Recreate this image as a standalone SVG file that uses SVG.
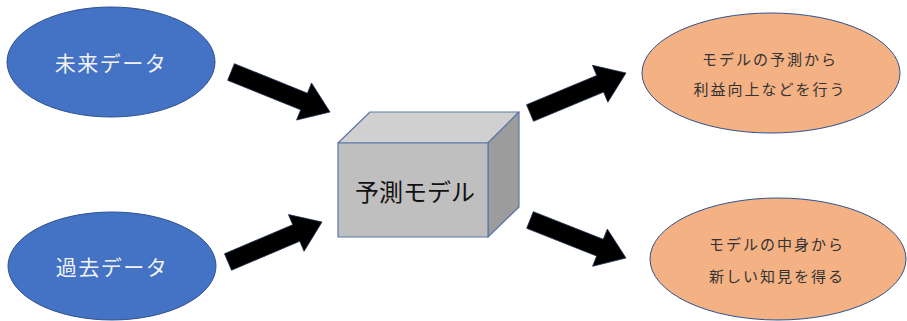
<svg xmlns="http://www.w3.org/2000/svg" width="907" height="321" viewBox="0 0 907 321">
<style>
.blue{fill:#4472C4;stroke:#2F528F;stroke-width:1}
.orange{fill:#F4B183;stroke:#2F528F;stroke-width:1}
.wt{fill:#F2F2F2;font-family:"Noto Sans CJK JP","Noto Sans",sans-serif;font-size:21px;text-anchor:middle;dominant-baseline:central;letter-spacing:1.5px}
.dt{fill:#333333;font-family:"Noto Sans CJK JP","Noto Sans",sans-serif;font-size:15px;text-anchor:middle;dominant-baseline:central;letter-spacing:2px}
.bt{fill:#111111;font-family:"Noto Sans CJK JP","Noto Sans",sans-serif;font-size:24px;text-anchor:middle;dominant-baseline:central}
.arr{fill:#000000;stroke:#1F2F4F;stroke-width:0.8}
.box{stroke:#5B76A8;stroke-width:1.2;stroke-linejoin:round}
</style>
<rect width="907" height="321" fill="#FFFFFF"/>
<g id="connectors">
<polygon class="arr" points="234.37,63.66 307.41,93.17 311.53,82.97 330,112 296.55,120.05 300.67,109.85 227.63,80.34"/>
<polygon class="arr" points="224.48,253.72 292.72,224.68 288.42,214.56 322,222 304.06,251.36 299.76,241.24 231.52,270.28"/>
<polygon class="arr" points="526.54,104.69 596.69,75.46 592.45,65.31 626,73 607.85,102.23 603.62,92.08 533.47,121.31"/>
<polygon class="arr" points="533.31,211.63 603.27,239.32 607.32,229.09 626,258 592.6,266.29 596.65,256.06 526.69,228.37"/>
</g>
<g id="future-data">
<ellipse class="blue" cx="111" cy="62" rx="104" ry="55"/>
<text class="wt" x="111" y="62">未来データ</text>
</g>
<g id="past-data">
<ellipse class="blue" cx="112" cy="266" rx="104" ry="54"/>
<text class="wt" x="112" y="266">過去データ</text>
</g>
<g id="model">
<polygon class="box" fill="#D0D0D0" points="338,143 370,112 519,112 488,143"/>
<polygon class="box" fill="#9C9C9C" points="488,143 519,112 519,207 488,237"/>
<rect class="box" fill="#BFBFBF" x="338" y="143" width="150" height="94"/>
<text class="bt" x="415" y="190">予測モデル</text>
</g>
<g id="outcome-prediction">
<ellipse class="orange" cx="771" cy="73" rx="129" ry="60"/>
<text class="dt" x="770" y="58">モデルの予測から</text>
<text class="dt" x="770" y="88">利益向上などを行う</text>
</g>
<g id="outcome-insight">
<ellipse class="orange" cx="778" cy="259" rx="128" ry="61"/>
<text class="dt" x="777" y="243">モデルの中身から</text>
<text class="dt" x="777" y="275">新しい知見を得る</text>
</g>
</svg>
